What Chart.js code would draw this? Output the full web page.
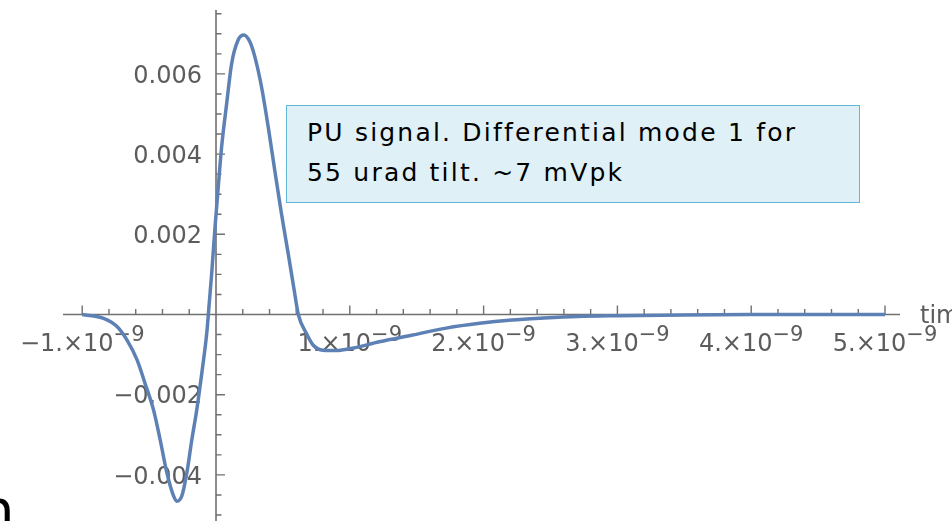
<!DOCTYPE html>
<html>
<head>
<meta charset="utf-8">
<script src="https://cdn.jsdelivr.net/npm/chart.js@4.4.1/dist/chart.umd.min.js"></script>
<style>
  html, body { margin: 0; padding: 0; background: #fff; }
  #wrap { position: relative; width: 952px; height: 521px; overflow: hidden; background: #fff; }
  #note {
    position: absolute; left: 286px; top: 105px; width: 574px; height: 98px;
    box-sizing: border-box; border: 1.5px solid #62b6d6; background: #dff0f7;
    font-family: "DejaVu Sans", sans-serif; font-size: 25px; line-height: 40px;
    letter-spacing: 2.2px; color: #000; padding: 7px 0 0 20px; white-space: nowrap;
  }
  #stray {
    position: absolute; left: -21px; top: 482px;
    font-family: "DejaVu Sans", sans-serif; font-size: 56px; line-height: 56px; color: #000;
  }
</style>
</head>
<body>
<div id="wrap">
  <canvas id="plot" width="952" height="521"></canvas>
  <div id="note">PU signal. Differential mode 1 for<br>55 urad tilt. ~7 mVpk</div>
  <div id="stray">n</div>
</div>
<script>
// time in units of 1e-9 s, signal in V
const timeNs = [
  -1.0, -0.84, -0.74, -0.665, -0.59, -0.53, -0.467, -0.417, -0.367, -0.318,
  -0.293, -0.255, -0.218, -0.181, -0.144, -0.106, -0.069, -0.05, -0.032, -0.007,
  0.017, 0.042, 0.08, 0.117, 0.166, 0.208, 0.253, 0.29, 0.34, 0.39,
  0.439, 0.489, 0.539, 0.588, 0.615, 0.675, 0.725, 0.8, 0.9, 1.02,
  1.22, 1.47, 1.72, 1.97, 2.21, 2.45, 2.7, 3.0, 3.5, 4.0, 4.5, 5.0
];
const signal = [
  0, -0.000095, -0.0003, -0.00064, -0.00113, -0.00172, -0.00238, -0.00313, -0.00395, -0.00452,
  -0.00466, -0.00452, -0.00395, -0.00313, -0.00238, -0.00146, -0.00046, 0.0003, 0.00103, 0.00219,
  0.00319, 0.00418, 0.00527, 0.00626, 0.00685, 0.00697, 0.0068, 0.00643, 0.00568, 0.00468,
  0.0036, 0.00252, 0.00153, 0.00053, 0.0, -0.00047, -0.00076, -0.00089, -0.0009, -0.00084,
  -0.00068, -0.00051, -0.00034, -0.00022, -0.00014, -0.00009, -0.00005, -0.00003, -0.00001, 0, 0, 0
];

const xMajorTicks = [-1, 1, 2, 3, 4, 5];
const xTickLabels = ["\u22121.", "1.", "2.", "3.", "4.", "5."];
const xExponent = "\u22129";
const yMajorTicks = [-0.004, -0.002, 0.002, 0.004, 0.006];
const yTickLabels = ["\u22120.004", "\u22120.002", "0.002", "0.004", "0.006"];
const xAxisLabel = "time";

const axisColor = "#707070";
const labelColor = "#5c5c5c";
const curveColor = "#5e81b5";

// Mathematica style axes crossing at the origin
const mathAxes = {
  id: "mathAxes",
  beforeDatasetsDraw(chart) {
    const { ctx, chartArea, scales: { x, y } } = chart;
    const x0 = x.getPixelForValue(0);
    const y0 = y.getPixelForValue(0);
    ctx.save();
    ctx.strokeStyle = axisColor;
    ctx.lineWidth = 1.6;
    ctx.beginPath();
    ctx.moveTo(chartArea.left, y0);
    ctx.lineTo(chartArea.right, y0);
    ctx.moveTo(x0, chartArea.top);
    ctx.lineTo(x0, chartArea.bottom);
    ctx.stroke();

    // x ticks (up), minor every 0.2
    ctx.lineWidth = 1.4;
    ctx.beginPath();
    for (let i = -5; i <= 25; i++) {
      if (i === 0) continue;
      const px = x.getPixelForValue(i / 5);
      const len = i % 5 === 0 ? 9 : 5.5;
      ctx.moveTo(px, y0);
      ctx.lineTo(px, y0 - len);
    }
    // y ticks (right), minor every 0.0005
    for (let j = -10; j <= 15; j++) {
      if (j === 0) continue;
      const py = y.getPixelForValue(j * 0.0005);
      const len = j % 4 === 0 ? 9 : 5.5;
      ctx.moveTo(x0, py);
      ctx.lineTo(x0 + len, py);
    }
    ctx.stroke();

    ctx.fillStyle = labelColor;
    ctx.textBaseline = "alphabetic";
    // y labels
    ctx.font = '24px "DejaVu Sans"';
    ctx.textAlign = "right";
    yMajorTicks.forEach((v, i) => {
      ctx.fillText(yTickLabels[i], x0 - 14, y.getPixelForValue(v) + 8.7);
    });
    // x labels: mantissa × 10 with raised exponent
    ctx.textAlign = "left";
    xMajorTicks.forEach((v, i) => {
      const main = xTickLabels[i] + "\u00d710";
      ctx.font = '24px "DejaVu Sans"';
      const w1 = ctx.measureText(main).width;
      ctx.font = '21px "DejaVu Sans"';
      const w2 = ctx.measureText(xExponent).width;
      const left = x.getPixelForValue(v) - (w1 + w2) / 2;
      ctx.font = '24px "DejaVu Sans"';
      ctx.fillText(main, left, y0 + 37);
      ctx.font = '21px "DejaVu Sans"';
      ctx.fillText(xExponent, left + w1, y0 + 27);
    });
    ctx.font = '24px "DejaVu Sans"';
    ctx.fillText(xAxisLabel, chartArea.right + 20, y0 + 9);
    ctx.restore();
  }
};

const ctx = document.getElementById("plot").getContext("2d");
new Chart(ctx, {
  type: "line",
  data: {
    datasets: [{
      data: timeNs.map((t, i) => ({ x: t, y: signal[i] })),
      borderColor: curveColor,
      borderWidth: 3.5,
      pointRadius: 0,
      cubicInterpolationMode: "monotone",
      fill: false
    }]
  },
  options: {
    responsive: false,
    animation: false,
    devicePixelRatio: 1,
    layout: { padding: { left: 63, right: 52, top: 10, bottom: 0 } },
    plugins: { legend: { display: false }, tooltip: { enabled: false } },
    scales: {
      x: { type: "linear", display: false, min: -1.1435, max: 5.112 },
      y: { type: "linear", display: false, min: -0.00515, max: 0.007594 }
    }
  },
  plugins: [mathAxes]
});
</script>
</body>
</html>
